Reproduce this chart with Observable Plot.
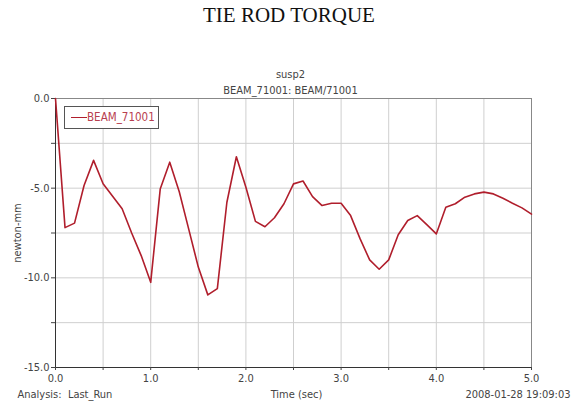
<!DOCTYPE html>
<html>
<head>
<meta charset="utf-8">
<script src="https://cdn.jsdelivr.net/npm/d3@7"></script>
<script src="https://cdn.jsdelivr.net/npm/@observablehq/plot@0.6"></script>
<style>
  html, body { margin: 0; padding: 0; background: #fff; }
  #wrap { position: relative; width: 572px; height: 408px; overflow: hidden; }
  #title { height: 30px; line-height: 30px; text-align: center; font-family: "Liberation Serif", "Times New Roman", serif; font-size: 21px; color: #111; padding-left: 6px; }
  #legend { position: absolute; left: 64px; top: 106px; width: 93px; height: 21px; border: 1px solid #555; background: #fff; box-sizing: content-box; font-family: "Liberation Sans Narrow", "Arial Narrow", "DejaVu Sans Condensed", sans-serif; font-size: 11.5px; color: #b8404f; }
  #legend .ln { position: absolute; left: 6px; top: 10px; width: 16px; height: 0; border-top: 1.6px solid #b01e2c; }
  #legend .tx { position: absolute; left: 22px; top: 3px; white-space: nowrap; }
</style>
</head>
<body>
<div id="wrap">
  <div id="title">TIE ROD TORQUE</div>
  <div id="chart"></div>
  <div id="legend"><span class="ln"></span><span class="tx">BEAM_71001</span></div>
</div>
<script>
const seriesName = "BEAM_71001";
const time = [0.0,0.1,0.2,0.3,0.4,0.5,0.6,0.7,0.8,0.9,1.0,1.1,1.2,1.3,1.4,1.5,1.6,1.7,1.8,1.9,2.0,2.1,2.2,2.3,2.4,2.5,2.6,2.7,2.8,2.9,3.0,3.1,3.2,3.3,3.4,3.5,3.6,3.7,3.8,3.9,4.0,4.1,4.2,4.3,4.4,4.5,4.6,4.7,4.8,4.9,5.0];
const torque = [0.0,-7.2,-6.95,-4.85,-3.45,-4.75,-5.45,-6.15,-7.5,-8.76,-10.25,-5.05,-3.55,-5.2,-7.3,-9.4,-10.95,-10.6,-5.8,-3.25,-4.95,-6.85,-7.15,-6.65,-5.87,-4.76,-4.6,-5.47,-5.97,-5.84,-5.84,-6.53,-7.83,-9.0,-9.52,-9.0,-7.6,-6.8,-6.53,-7.03,-7.55,-6.06,-5.87,-5.5,-5.32,-5.22,-5.32,-5.56,-5.84,-6.1,-6.45];
const xTicks = [0,0.5,1,1.5,2,2.5,3,3.5,4,4.5,5];
const yTicks = [0,-2.5,-5,-7.5,-10,-12.5,-15];
const subtitle1 = "susp2";
const subtitle2 = "BEAM_71001: BEAM/71001";
const footLeft = "Analysis:  Last_Run";
const footCenter = "Time (sec)";
const footRight = "2008-01-28 19:09:03";

const data = time.map((t, i) => ({t, v: torque[i]}));
const font = '"Liberation Sans Narrow", "Arial Narrow", "DejaVu Sans Condensed", sans-serif';

const chart = Plot.plot({
  width: 572,
  height: 378,
  marginTop: 68,
  marginBottom: 41,
  marginLeft: 55,
  marginRight: 41,
  style: {fontFamily: font, fontSize: "11px", color: "#444", background: "#fff"},
  x: {domain: [0, 5]},
  y: {domain: [-15, 0]},
  marks: [
    Plot.gridX(xTicks.slice(1, -1), {stroke: "#cfcfcf", strokeOpacity: 1}),
    Plot.gridY(yTicks.slice(1, -1), {stroke: "#cfcfcf", strokeOpacity: 1}),
    Plot.frame({stroke: "#888"}),
    Plot.ruleX([0], {stroke: "#333"}),
    Plot.ruleY([-15], {stroke: "#333"}),
    Plot.axisX({ticks: xTicks, tickSize: 3, tickPadding: 4, stroke: "#444", fill: "#444",
      tickFormat: d => Number.isInteger(d) ? d.toFixed(1) : "", label: null}),
    Plot.axisY({ticks: yTicks, tickSize: 4, tickPadding: 2, stroke: "#444", fill: "#444",
      tickFormat: d => d % 5 === 0 ? d.toFixed(1) : "",
      label: "newton-mm", labelAnchor: "center", labelArrow: "none", labelOffset: 42}),
    Plot.line(data, {x: "t", y: "v", stroke: "#b01e2c", strokeWidth: 1.6}),
    Plot.text([subtitle1], {frameAnchor: "top", dy: -28, dx: -3, fill: "#444", fontSize: 11}),
    Plot.text([subtitle2], {frameAnchor: "top", dy: -12, dx: -3, fill: "#444", fontSize: 11}),
    Plot.text([footLeft], {frameAnchor: "bottom-left", dx: -38, dy: 30, textAnchor: "start", fill: "#444", fontSize: 11}),
    Plot.text([footCenter], {frameAnchor: "bottom", dx: 3, dy: 30, fill: "#444", fontSize: 11}),
    Plot.text([footRight], {frameAnchor: "bottom-right", dx: 39, dy: 30, textAnchor: "end", fill: "#444", fontSize: 11})
  ]
});
document.getElementById("chart").appendChild(chart);
</script>
</body>
</html>
